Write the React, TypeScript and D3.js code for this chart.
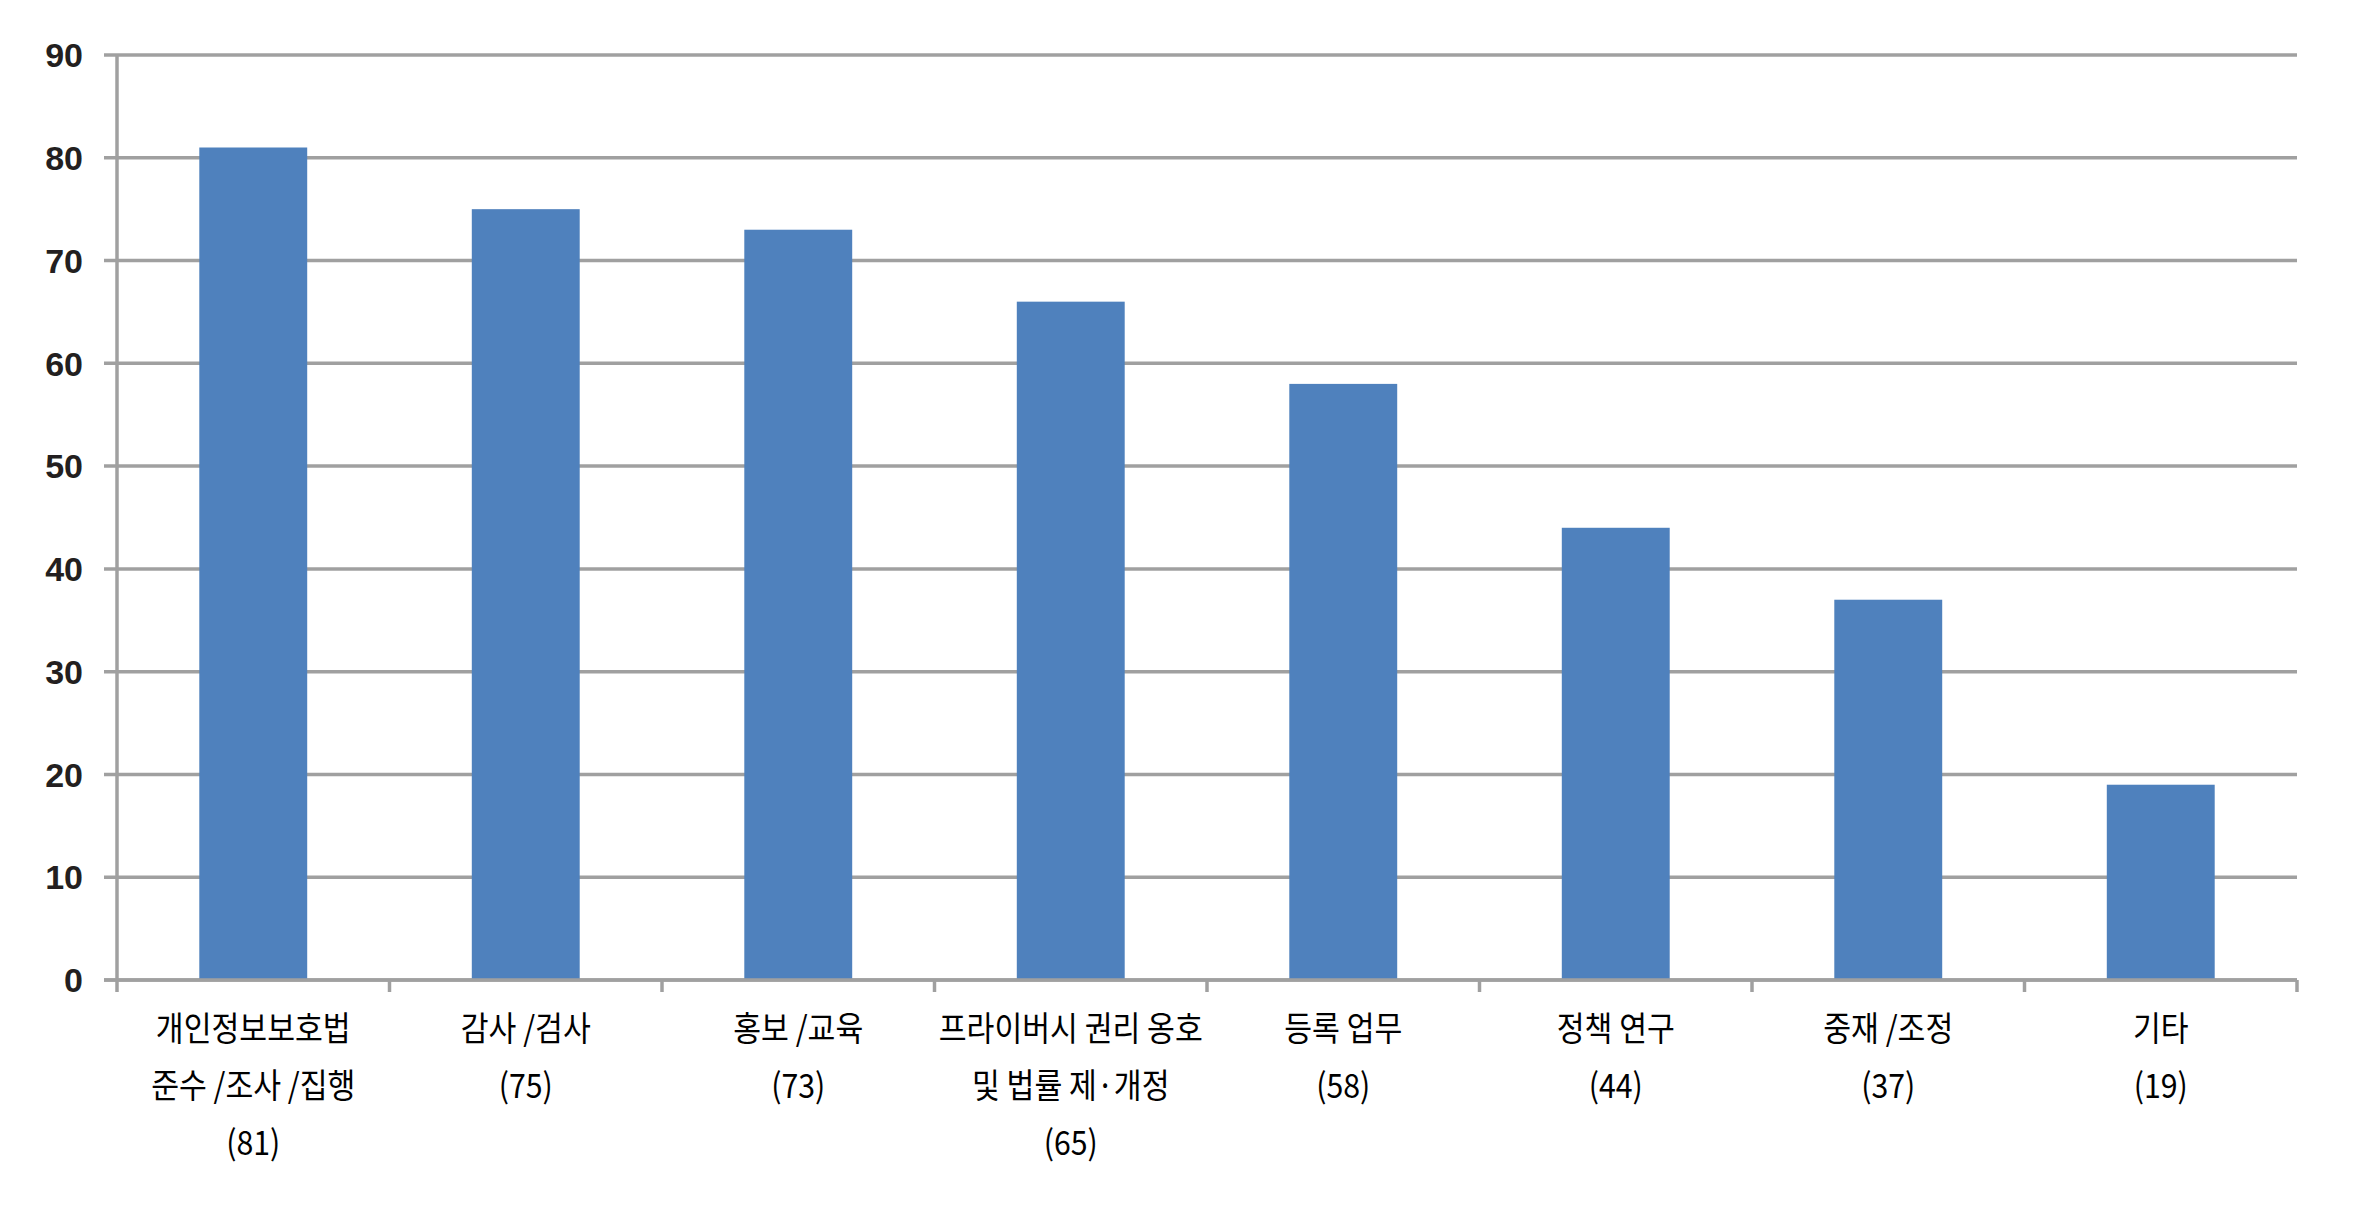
import React from "react";
import * as d3 from "d3";

const categories = [
  "개인정보보호법 준수/조사/집행",
  "감사/검사",
  "홍보/교육",
  "프라이버시 권리 옹호 및 법률 제·개정",
  "등록 업무",
  "정책 연구",
  "중재/조정",
  "기타",
];
const values = [81, 75, 73, 66, 58, 44, 37, 19];
const labelLines = [
  ["개인정보보호법", "준수 /조사 /집행", "(81)"],
  ["감사 /검사", "(75)"],
  ["홍보 /교육", "(73)"],
  ["프라이버시 권리 옹호", "및 법률 제·개정", "(65)"],
  ["등록 업무", "(58)"],
  ["정책 연구", "(44)"],
  ["중재 /조정", "(37)"],
  ["기타", "(19)"],
];
const yTicks = [0, 10, 20, 30, 40, 50, 60, 70, 80, 90];

const W = 2362;
const H = 1221;
const left = 117;
const right = 2297;
const top = 55;
const bottom = 980;

export default function App() {
  const x = d3
    .scaleBand<string>()
    .domain(categories)
    .range([left, right])
    .paddingInner(0.604)
    .paddingOuter(0.302);
  const y = d3.scaleLinear().domain([0, 90]).range([bottom, top]);
  const step = x.step();
  const boundaries = d3.range(categories.length + 1).map((i) => left + i * step);
  const grid = "#a0a0a0";

  return (
    <div style={{ position: "absolute", left: 0, top: 0 }}>
      <svg width={W} height={H} style={{ display: "block", background: "#fff" }}>
        {yTicks.map((t) => (
          <line
            key={"g" + t}
            x1={104}
            x2={right}
            y1={y(t)}
            y2={y(t)}
            stroke={grid}
            strokeWidth={3.5}
          />
        ))}
        {values.map((v, i) => (
          <rect
            key={"b" + i}
            x={x(categories[i])}
            y={y(v)}
            width={x.bandwidth()}
            height={y(0) - y(v)}
            fill="#4f81bd"
          />
        ))}
        <line x1={left} x2={left} y1={top} y2={992} stroke={grid} strokeWidth={3.5} />
        <line x1={104} x2={right} y1={y(0)} y2={y(0)} stroke={grid} strokeWidth={3.5} />
        {boundaries.slice(1).map((bx, i) => (
          <line
            key={"t" + i}
            x1={bx}
            x2={bx}
            y1={y(0)}
            y2={992}
            stroke={grid}
            strokeWidth={3.5}
          />
        ))}
        {yTicks.map((t) => (
          <text
            key={"yl" + t}
            x={83}
            y={y(t)}
            dy="0.36em"
            textAnchor="end"
            fontFamily="'Liberation Sans', Arial, sans-serif"
            fontWeight="bold"
            fontSize={34}
            fill="#231f20"
          >
            {t}
          </text>
        ))}
        {labelLines.map((lines, i) => {
          const cx = (x(categories[i]) as number) + x.bandwidth() / 2;
          return lines.map((ln, j) => (
            <text
              key={"xl" + i + "-" + j}
              transform={`translate(${cx},${1029 + j * 57}) scale(0.89,1)`}
              dy="0.36em"
              textAnchor="middle"
              fontFamily="'Noto Sans CJK KR', sans-serif"
              fontSize={34}
              fill="#000"
            >
              {ln}
            </text>
          ));
        })}
      </svg>
    </div>
  );
}
